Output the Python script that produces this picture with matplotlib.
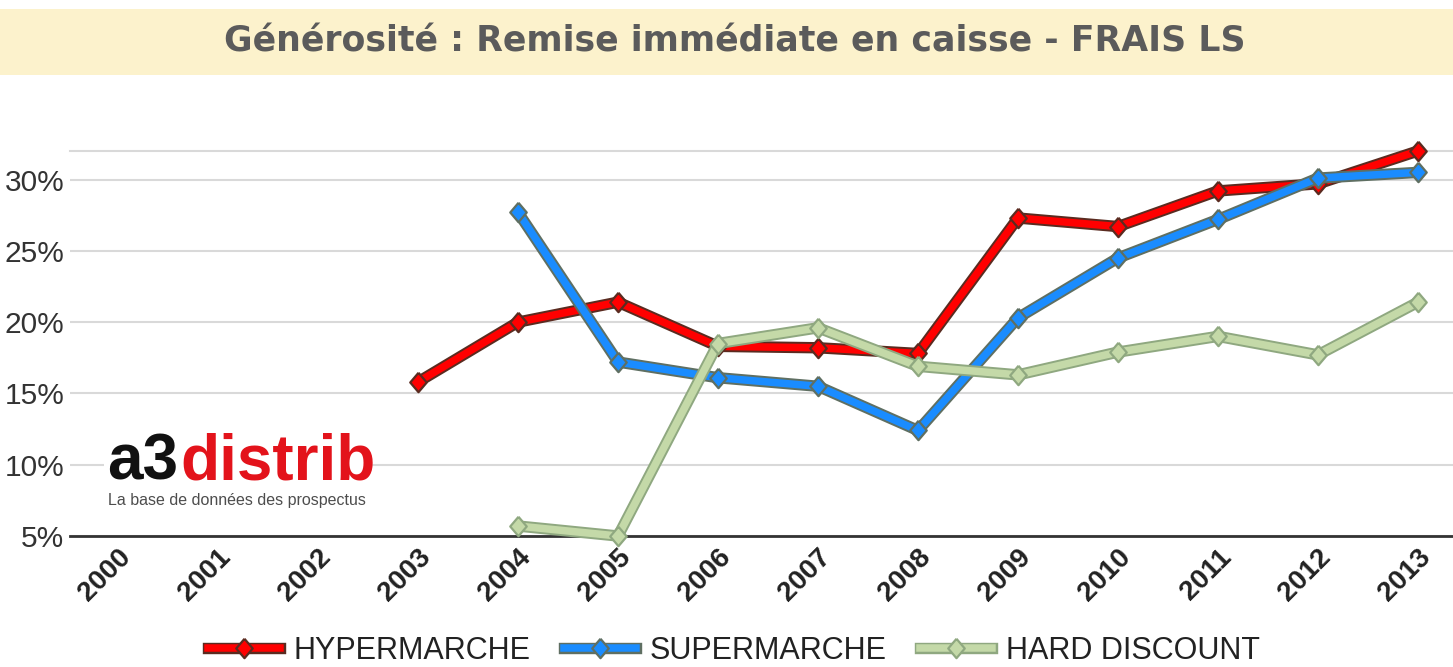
import numpy as np
import matplotlib
matplotlib.use("Agg")
import matplotlib.pyplot as plt
from matplotlib.patches import Rectangle
from matplotlib.lines import Line2D
from matplotlib.legend_handler import HandlerTuple

years = list(range(2000, 2014))
year_labels = [str(y) for y in years]

# % generosity (None = no data)
hyper = [None, None, None, 15.8, 20.0, 21.4, 18.3, 18.2, 17.8, 27.3, 26.7, 29.2, 29.7, 32.0]
super_ = [None, None, None, None, 27.7, 17.2, 16.1, 15.5, 12.4, 20.3, 24.5, 27.2, 30.1, 30.5]
hard = [None, None, None, None, 5.7, 5.0, 18.5, 19.6, 16.9, 16.3, 17.9, 19.0, 17.7, 21.4]

series_names = ["HYPERMARCHE", "SUPERMARCHE", "HARD DISCOUNT"]
y_ticks = [5, 10, 15, 20, 25, 30]
y_labels = ["5%", "10%", "15%", "20%", "25%", "30%"]

fills = ["#ff0000", "#1a8cff", "#c4d9a8"]
edges = ["#5a2b20", "#5f6f62", "#8fa880"]

# slightly tall diamond
diamond = [(0, 1), (0.85, 0), (0, -1), (-0.85, 0), (0, 1)]

W, H = 1453, 667
fig = plt.figure(figsize=(W / 100, H / 100), dpi=100)
plt.rcParams["font.family"] = ["Liberation Sans", "DejaVu Sans"]

# title band
fig.patches.append(Rectangle((0, 1 - 75 / H), 1, 66 / H, transform=fig.transFigure,
                             facecolor="#fcf2cc", edgecolor="none", zorder=0))
fig.text(0.506, 1 - 41 / H, "Générosité : Remise immédiate en caisse - FRAIS LS",
         ha="center", va="center", fontsize=25, fontweight="bold", color="#5b5b5b",
         family=["DejaVu Sans"])

ax = fig.add_axes([70 / W, 1 - 536 / H, 1 - 70 / W, (536 - 151) / H])
ax.set_xlim(1999.52, 2013.35)
ax.set_ylim(5, 32)

for s in ["left", "right"]:
    ax.spines[s].set_visible(False)
ax.spines["top"].set_color("#d9d9d9")
ax.spines["top"].set_linewidth(1.5)
ax.spines["bottom"].set_color("#333333")
ax.spines["bottom"].set_linewidth(2)

ax.set_yticks(y_ticks)
ax.set_yticklabels(y_labels, fontsize=21.5, color="#333333")
ax.set_xticks(years)
ax.set_xticklabels(year_labels, rotation=45, ha="right", rotation_mode="anchor",
                   fontsize=20, fontweight="bold", color="#222222")
ax.tick_params(axis="both", length=0)
ax.tick_params(axis="y", pad=4)
ax.tick_params(axis="x", pad=6)
ax.yaxis.grid(True, color="#d9d9d9", linewidth=1.5)
ax.set_axisbelow(True)

handles = []
for vals, name, fc, ec, z in zip([hyper, super_, hard], series_names, fills, edges, [3, 4, 5]):
    y = np.array([np.nan if v is None else v for v in vals])
    ax.plot(years, y, color=ec, linewidth=8.2, solid_capstyle="butt", zorder=z, clip_on=False)
    ax.plot(years, y, color=fc, linewidth=5.4, marker=diamond, markersize=14,
            markerfacecolor=fc, markeredgecolor=ec, markeredgewidth=1.6, zorder=z + 0.5,
            clip_on=False)
    h1 = Line2D([], [], color=ec, linewidth=8.2)
    h2 = Line2D([], [], color=fc, linewidth=5.4, marker=diamond, markersize=14,
                markerfacecolor=fc, markeredgecolor=ec, markeredgewidth=1.6)
    handles.append((h1, h2))

fig.legend(handles, series_names, handler_map={tuple: HandlerTuple(ndivide=1)},
           loc="center", bbox_to_anchor=(0.505, 1 - 651 / H), ncol=3, frameon=False,
           fontsize=22, handlelength=2.35, columnspacing=1.1, handletextpad=0.45,
           labelcolor="#222222")

# logo
logo_font = dict(fontsize=46, fontweight="bold", va="baseline", ha="left", zorder=6)
fig.patches.append(Rectangle((104 / W, 1 - 490 / H), 262 / W, 62 / H,
                             transform=fig.transFigure, facecolor="white",
                             edgecolor="none", zorder=5))
t1 = fig.text(107 / W, 1 - 480 / H, "a3", color="#111111", **logo_font)
renderer = fig.canvas.get_renderer()
bb = t1.get_window_extent(renderer)
fig.text((bb.x1 + 2) / W, 1 - 480 / H, "distrib", color="#e3131b", **logo_font)
fig.text(108 / W, 1 - 500 / H, "La base de données des prospectus", fontsize=11.5,
         color="#4d4d4d", va="center", ha="left", zorder=6)

fig.savefig("out.png", dpi=100)
